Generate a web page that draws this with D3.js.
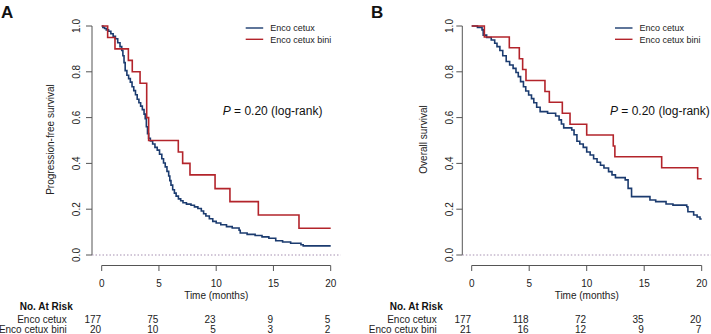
<!DOCTYPE html>
<html><head><meta charset="utf-8">
<script src="https://cdn.jsdelivr.net/npm/d3@7/dist/d3.min.js"></script>
<style>
html,body{margin:0;padding:0;background:#fff;}
svg{display:block;font-family:"Liberation Sans",Arial,Helvetica,sans-serif;}
</style></head>
<body><svg id="c" width="711" height="334"></svg>
<script>
// ---------- data ----------
const groups = ["Enco cetux", "Enco cetux bini"];
const timeTicks = [0, 5, 10, 15, 20];
const survTicks = [0, 0.2, 0.4, 0.6, 0.8, 1.0];
const survTickLabels = ["0.0", "0.2", "0.4", "0.6", "0.8", "1.0"];

// PFS, Enco cetux (n=177): [time, survival]
const pfsCetux = [
 [0,1.0],[0.1,0.994],[0.25,0.989],[0.4,0.983],[0.6,0.977],[0.8,0.966],[1.0,0.955],[1.2,0.944],
 [1.4,0.927],[1.6,0.910],[1.75,0.893],[1.85,0.870],[1.95,0.840],[2.05,0.805],[2.2,0.785],[2.35,0.770],
 [2.5,0.755],[2.65,0.735],[2.8,0.718],[2.95,0.700],[3.1,0.680],[3.25,0.665],[3.4,0.650],[3.55,0.635],
 [3.7,0.615],[3.8,0.595],[3.9,0.560],[4.0,0.530],[4.1,0.510],[4.25,0.498],[4.45,0.485],[4.65,0.470],
 [4.85,0.458],[5.05,0.440],[5.25,0.420],[5.4,0.402],[5.55,0.385],[5.7,0.365],[5.85,0.345],[5.95,0.325],
 [6.05,0.305],[6.2,0.285],[6.35,0.270],[6.5,0.257],[6.7,0.245],[6.9,0.237],[7.1,0.228],[7.4,0.222],
 [7.8,0.217],[8.1,0.210],[8.4,0.203],[8.7,0.192],[8.9,0.180],[9.1,0.170],[9.4,0.158],[9.7,0.147],
 [10.0,0.140],[10.4,0.132],[10.9,0.124],[11.4,0.118],[12.0,0.108],[12.1,0.096],[12.7,0.090],[13.4,0.085],
 [14.0,0.079],[14.6,0.073],[15.2,0.062],[15.8,0.057],[16.5,0.051],[17.4,0.045],[17.6,0.040],[20,0.040]
];
// PFS, Enco cetux bini (n=20)
const pfsBini = [
 [0,1.0],[0.52,0.95],[1.16,0.90],[2.33,0.85],[2.67,0.80],[3.35,0.75],[3.93,0.60],[4.1,0.50],
 [6.69,0.45],[7.07,0.40],[7.71,0.35],[9.9,0.29],[11.2,0.233],[13.68,0.175],[17.23,0.117],[20,0.117]
];
// OS, Enco cetux (n=177)
const osCetux = [
 [0,1.0],[0.5,0.994],[0.9,0.983],[1.0,0.960],[1.3,0.950],[1.7,0.939],[2.0,0.925],[2.2,0.910],
 [2.45,0.893],[2.7,0.870],[3.0,0.845],[3.3,0.830],[3.6,0.815],[3.85,0.797],[4.05,0.779],[4.25,0.757],
 [4.5,0.735],[4.7,0.716],[4.95,0.699],[5.2,0.683],[5.4,0.665],[5.65,0.645],[5.95,0.626],[6.6,0.619],
 [7.3,0.607],[7.6,0.590],[7.8,0.572],[8.0,0.555],[8.7,0.546],[8.9,0.525],[9.15,0.497],[9.4,0.485],
 [9.7,0.470],[10.0,0.450],[10.3,0.437],[10.6,0.420],[10.9,0.405],[11.2,0.392],[11.5,0.380],[11.9,0.364],
 [12.2,0.350],[12.5,0.338],[13.35,0.328],[13.6,0.291],[13.9,0.255],[15.5,0.240],[16.0,0.233],[16.9,0.223],
 [17.5,0.218],[18.7,0.211],[18.8,0.189],[19.3,0.175],[19.6,0.166],[19.85,0.157],[20,0.157]
];
// OS, Enco cetux bini (n=21)
const osBini = [
 [0,1.0],[1.1,0.952],[3.27,0.905],[4.14,0.857],[4.43,0.810],[4.72,0.762],[6.37,0.714],[6.75,0.667],
 [7.88,0.619],[8.55,0.571],[10.0,0.524],[12.31,0.476],[12.45,0.429],[16.52,0.381],[19.65,0.333],[20,0.333]
];

const riskPfsCetux = [177, 75, 23, 9, 5];
const riskPfsBini = [20, 10, 5, 3, 2];
const riskOsCetux = [177, 118, 72, 35, 20];
const riskOsBini = [21, 16, 12, 9, 7];

const pText = "= 0.20 (log-rank)";
const xTitle = "Time (months)";
const riskTitle = "No. At Risk";

// ---------- drawing ----------
const colors = ["#1b3b6f", "#b3242b"];
const svg = d3.select("#c");

const panels = [
  {letter:"A", lx:1, ytitle:"Progression-free survival", x0:101.7, x1:330.7, ax:92, ytx:54,
   series:[pfsCetux, pfsBini], risk:[riskPfsCetux, riskPfsBini], legX:245.7, pX:222.7, tickLabDx:12},
  {letter:"B", lx:371, ytitle:"Overall survival", x0:471.7, x1:701.7, ax:462.3, ytx:426.5,
   series:[osCetux, osBini], risk:[riskOsCetux, riskOsBini], legX:615, pX:610, tickLabDx:9.5}
];

const yTop = 26, yBot = 255, xAxisY = 265.5;
const axisCol = "#555", textCol = "#222";

panels.forEach(p => {
  const g = svg.append("g");
  const x = d3.scaleLinear().domain([0, 20]).range([p.x0, p.x1]);
  const y = d3.scaleLinear().domain([0, 1]).range([yBot, yTop]);

  // panel letter
  g.append("text").attr("x", p.lx).attr("y", 17.5).attr("font-size", 17).attr("font-weight", "bold")
    .attr("fill", "#111").text(p.letter);

  // y axis
  g.append("line").attr("x1", p.ax).attr("x2", p.ax).attr("y1", y(0)).attr("y2", y(1))
    .attr("stroke", axisCol).attr("stroke-width", 1);
  survTicks.forEach((t, i) => {
    g.append("line").attr("x1", p.ax - 6).attr("x2", p.ax).attr("y1", y(t)).attr("y2", y(t))
      .attr("stroke", axisCol);
    g.append("text").attr("transform", `translate(${p.ax - p.tickLabDx},${y(t)}) rotate(-90)`)
      .attr("text-anchor", "middle").attr("font-size", 10).attr("fill", textCol)
      .text(survTickLabels[i]);
  });
  g.append("text").attr("transform", `translate(${p.ytx},${(yTop + yBot) / 2 - 1}) rotate(-90)`)
    .attr("text-anchor", "middle").attr("font-size", 10).attr("fill", textCol).text(p.ytitle);

  // x axis
  g.append("line").attr("x1", x(0)).attr("x2", x(20)).attr("y1", xAxisY).attr("y2", xAxisY)
    .attr("stroke", axisCol);
  timeTicks.forEach(t => {
    g.append("line").attr("x1", x(t)).attr("x2", x(t)).attr("y1", xAxisY).attr("y2", xAxisY + 5.5)
      .attr("stroke", axisCol);
    g.append("text").attr("x", x(t)).attr("y", 287).attr("text-anchor", "middle")
      .attr("font-size", 10).attr("fill", textCol).text(t);
  });
  g.append("text").attr("x", x(10)).attr("y", 298.5).attr("text-anchor", "middle")
    .attr("font-size", 10).attr("fill", textCol).text(xTitle);

  // dotted zero line
  g.append("line").attr("x1", p.ax).attr("x2", x(20) + 10).attr("y1", y(0)).attr("y2", y(0))
    .attr("stroke", "#a58fb0").attr("stroke-width", 1).attr("stroke-dasharray", "1.5,2");

  // curves
  const line = d3.line().x(d => x(d[0])).y(d => y(d[1])).curve(d3.curveStepAfter);
  p.series.forEach((s, i) => {
    g.append("path").attr("d", line(s)).attr("fill", "none").attr("stroke", colors[i])
      .attr("stroke-width", 1.6);
  });
  // redraw blue on top? keep red on top like reference
  // legend
  groups.forEach((name, i) => {
    const ly = 28 + i * 11.3;
    g.append("line").attr("x1", p.legX).attr("x2", p.legX + 17.5).attr("y1", ly).attr("y2", ly)
      .attr("stroke", colors[i]).attr("stroke-width", 1.4);
    g.append("text").attr("x", p.legX + 24.5).attr("y", ly + 3.2).attr("font-size", 9)
      .attr("fill", textCol).text(name);
  });

  // P value
  const pt = g.append("text").attr("x", p.pX).attr("y", 115).attr("font-size", 12).attr("fill", "#111");
  pt.append("tspan").attr("font-style", "italic").text("P");
  pt.append("tspan").text(" " + pText);

  // risk table
  g.append("text").attr("x", x(0) - 29).attr("y", 309.5).attr("text-anchor", "end")
    .attr("font-size", 10).attr("font-weight", "bold").attr("fill", "#111").text(riskTitle);
  groups.forEach((name, i) => {
    const by = 322.5 + i * 10.5;
    g.append("text").attr("x", x(0) - 35).attr("y", by).attr("text-anchor", "end")
      .attr("font-size", 10).attr("fill", textCol).text(name);
    p.risk[i].forEach((v, j) => {
      g.append("text").attr("x", x(timeTicks[j]) - 0.5).attr("y", by).attr("text-anchor", "end")
        .attr("font-size", 10).attr("fill", textCol).text(v);
    });
  });
});
</script>
</body></html>
